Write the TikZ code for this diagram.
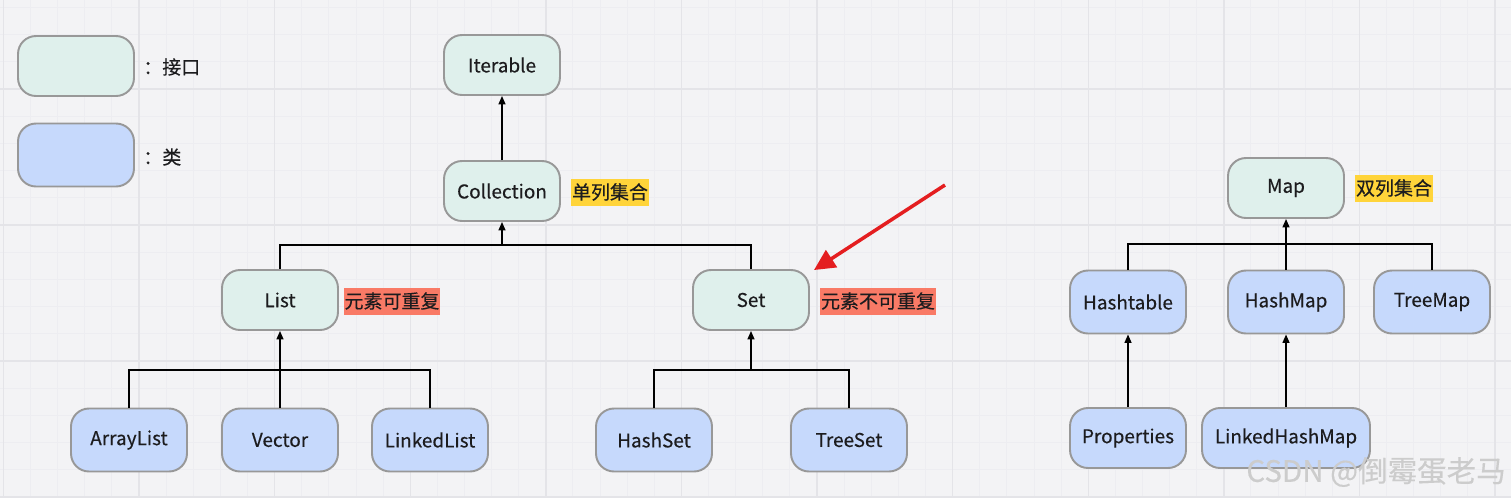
\documentclass[tikz,border=0pt]{standalone}
\usepackage{fontspec}
\setmainfont{Noto Sans CJK SC}[FakeBold=0.3]
\usepackage{tikz}
\usetikzlibrary{arrows.meta,positioning}
\definecolor{bgcol}{RGB}{243,243,245}
\definecolor{majorgrid}{RGB}{228,228,232}
\definecolor{minorgrid}{RGB}{237,237,241}
\definecolor{boxline}{RGB}{152,152,152}
\definecolor{ifacefill}{RGB}{223,240,236}
\definecolor{clsfill}{RGB}{198,217,252}
\definecolor{txt}{RGB}{28,28,30}
\definecolor{tagyellow}{RGB}{255,212,58}
\definecolor{tagred}{RGB}{249,122,102}
\definecolor{redarrow}{RGB}{228,30,32}

\begin{document}
\begin{tikzpicture}[
    x=0.02cm, y=-0.02cm,
    box/.style={rectangle, draw=boxline, line width=1.1pt, rounded corners=0.36cm, minimum width=2.32cm, minimum height=1.2cm, align=center, inner sep=0pt, font=\fontsize{10.8pt}{13pt}\selectfont, text=txt},
    iface/.style={box, fill=ifacefill},
    cls/.style={box, fill=clsfill, minimum height=1.26cm},
    tag/.style={inner xsep=0.6pt, inner ysep=0pt, minimum height=0.54cm, font=\fontsize{10.8pt}{13pt}\selectfont, text=txt},
    note/.style={inner sep=0pt, font=\fontsize{10.8pt}{13pt}\selectfont, text=txt, anchor=west},
    link/.style={line width=0.85pt},
    arrow/.style={-{Triangle[length=1.7mm, width=1.4mm]}, line width=0.85pt},
    rarrow/.style={-{Triangle[length=4.2mm, width=4mm]}, line width=2pt, draw=redarrow}
]
    % Background grid
    \useasboundingbox (0,0) rectangle (1511,498);
    \fill[bgcol] (0,0) rectangle (1511,498);
    \foreach \i in {0,...,56}
        \draw[minorgrid, line width=0.5pt] ({3.4+27.12*\i},0) -- ({3.4+27.12*\i},498);
    \foreach \i in {0,...,20}
        \draw[minorgrid, line width=0.5pt] (0,{-47+27.2*\i}) -- (1511,{-47+27.2*\i});
    \foreach \i in {0,...,11}
        \draw[majorgrid, line width=0.8pt] ({3.4+135.6*\i},0) -- ({3.4+135.6*\i},498);
    \foreach \i in {0,...,4}
        \draw[majorgrid, line width=0.8pt] (0,{-47+136*\i}) -- (1511,{-47+136*\i});

    % Legend
    \node[iface] (keyiface) at (76,66) {};
    \node[cls] (keycls) at (76,155) {};
    \node[note] (keyifacetxt) at (143,67) {：接口};
    \node[note] (keyclstxt) at (143,157) {：类};

    % Collection tree
    \node[iface] (iterable) at (502,65) {Iterable};
    \node[iface] (collection) at (502,191) {Collection};
    \node[tag, fill=tagyellow] (single) at (610,192) {单列集合};
    \node[iface] (list) at (280,300) {List};
    \node[tag, fill=tagred] (repeat) at (392,301) {元素可重复};
    \node[iface] (set) at (751,300) {Set};
    \node[tag, fill=tagred] (norepeat) at (878,301) {元素不可重复};

    \node[cls] (arraylist) at (129,440) {ArrayList};
    \node[cls] (vector) at (280,440) {Vector};
    \node[cls] (linkedlist) at (430,440) {LinkedList};
    \node[cls] (hashset) at (654,440) {HashSet};
    \node[cls] (treeset) at (849,440) {TreeSet};

    % Map tree
    \node[iface] (map) at (1286,188) {Map};
    \node[tag, fill=tagyellow] (double) at (1394,188) {双列集合};
    \node[cls] (hashtable) at (1128,302) {Hashtable};
    \node[cls] (hashmap) at (1286,302) {HashMap};
    \node[cls] (treemap) at (1432,302) {TreeMap};
    \node[cls, minimum height=1.2cm] (properties) at (1128,438) {Properties};
    \node[cls, minimum height=1.2cm, minimum width=3.36cm] (linkedhashmap) at (1286,438) {LinkedHashMap};

    % Watermark
    \node[font=\fontsize{16.8pt}{19pt}\selectfont, text=black!20] (mark) at (1376,472) {CSDN @倒霉蛋老马};

    % Bus points
    \coordinate (collbus) at (502,245);
    \coordinate (listbus) at (280,370);
    \coordinate (setbus) at (751,370);
    \coordinate (mapbus) at (1286,244);
    \coordinate (redtail) at (945,185);

    % Connectors
    \draw[arrow] (collection) -- (iterable);
    \draw[link] (list.north) |- (collbus);
    \draw[link] (set.north) |- (collbus);
    \draw[arrow] (collbus) -- (collection.south);
    \draw[link] (arraylist.north) |- (listbus);
    \draw[link] (linkedlist.north) |- (listbus);
    \draw[arrow] (vector) -- (list);
    \draw[link] (hashset.north) |- (setbus);
    \draw[link] (treeset.north) |- (setbus);
    \draw[arrow] (setbus) -- (set.south);
    \draw[link] (hashtable.north) |- (mapbus);
    \draw[link] (treemap.north) |- (mapbus);
    \draw[arrow] (hashmap) -- (map);
    \draw[arrow] (properties) -- (hashtable);
    \draw[arrow] (linkedhashmap) -- (hashmap);
    \draw[rarrow] (redtail) -- ([shift={(4,1)}]set.north east);
\end{tikzpicture}
\end{document}
